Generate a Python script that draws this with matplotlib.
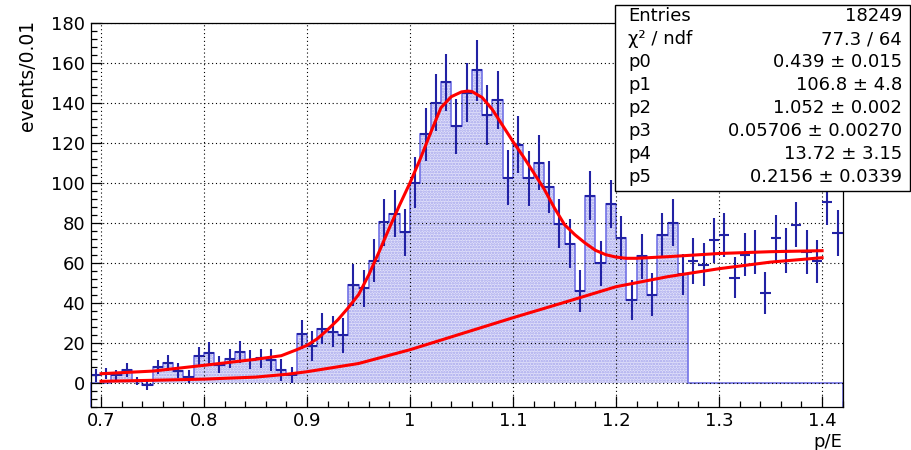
import numpy as np
import matplotlib
matplotlib.use('Agg')
import matplotlib.pyplot as plt
from matplotlib.patches import Rectangle
from matplotlib.ticker import MultipleLocator, FormatStrFormatter

plt.rcParams['font.family'] = ['DejaVu Sans']
plt.rcParams['hatch.linewidth'] = 1.2

# histogram: p/E, 0.01 wide bins from 0.69 to 1.42
bin_edges = np.linspace(0.69, 1.42, 74)
centers = 0.5 * (bin_edges[:-1] + bin_edges[1:])

counts = [3.7, 4.5, 4.0, 6.3, 1.0, -1.3, 8.0, 10.0, 6.0, 3.0,
          13.2, 15.0, 9.0, 12.0, 15.5, 11.5, 12.3, 11.2, 6.3, 4.0,
          24.2, 18.5, 27.0, 25.5, 23.7, 48.7, 47.2, 61.0, 80.2, 84.4,
          75.2, 100.0, 124.2, 140.0, 150.2, 128.1, 145.0, 156.2, 133.8, 141.2,
          102.5, 119.0, 102.2, 110.0, 97.9, 79.4, 69.5, 45.8, 93.5, 59.6,
          89.4, 72.3, 41.6, 63.2, 44.0, 73.7, 79.9, 54.1, 60.8, 59.0,
          71.2, 73.7, 52.5, 64.0, 65.3, 44.8, 72.3, 66.0, 79.0, 65.3,
          60.7, 90.3, 74.8]
errors = [3.1, 2.8, 2.5, 3.5, 1.9, 2.5, 3.6, 4.0, 3.8, 3.3,
          4.8, 5.4, 4.2, 4.7, 5.4, 4.8, 4.8, 5.5, 5.4, 4.0,
          7.3, 7.4, 7.8, 7.8, 8.7, 10.4, 9.3, 10.8, 11.8, 11.8,
          11.7, 12.6, 13.2, 14.4, 14.3, 13.9, 14.8, 15.2, 15.0, 14.6,
          13.8, 14.3, 13.8, 13.6, 12.9, 12.3, 12.1, 10.4, 12.1, 11.4,
          12.1, 11.1, 10.0, 11.3, 10.6, 11.3, 11.7, 10.2, 11.3, 10.8,
          11.3, 11.1, 10.1, 10.8, 10.8, 10.6, 11.4, 11.1, 11.2, 10.8,
          10.8, 11.7, 11.4]

# filled histogram only covers 0.71 - 1.27
hist_counts = np.where((centers > 0.71) & (centers < 1.27), counts, 0.0)

# fit curves (total and background)
fit_total_x = [0.70, 0.75, 0.80, 0.85, 0.875, 0.89, 0.90, 0.91, 0.92, 0.93,
               0.94, 0.95, 0.96, 0.97, 0.98, 0.99, 1.00, 1.01, 1.02, 1.03,
               1.04, 1.05, 1.056, 1.06, 1.07, 1.08, 1.09, 1.10, 1.11, 1.12,
               1.13, 1.14, 1.15, 1.16, 1.17, 1.18, 1.19, 1.20, 1.21, 1.22,
               1.25, 1.30, 1.35, 1.40]
fit_total_y = [4.5, 5.8, 8.7, 11.7, 13.5, 16.5, 18.7, 22.0, 26.5, 31.5,
               37.5, 44.0, 54.0, 65.5, 77.5, 89.0, 100.0, 112.0, 125.0, 137.5,
               143.0, 145.4, 145.8, 145.6, 142.6, 136.5, 128.5, 120.5, 113.0, 105.0,
               97.0, 87.5, 79.0, 74.0, 69.8, 66.2, 64.0, 62.8, 62.2, 62.2,
               63.0, 64.6, 65.5, 66.0]
fit_bkg_x = [0.70, 0.75, 0.80, 0.85, 0.88, 0.90, 0.95, 1.00, 1.05, 1.10,
             1.15, 1.20, 1.25, 1.30, 1.35, 1.40]
fit_bkg_y = [0.7, 1.2, 1.8, 2.8, 4.2, 5.5, 9.6, 16.5, 24.5, 32.5,
             40.2, 48.0, 53.0, 57.0, 60.3, 62.5]

# stats box
stat_labels = ['Entries', 'χ² / ndf', 'p0', 'p1', 'p2', 'p3', 'p4', 'p5']
stat_values = ['18249', '77.3 / 64', '0.439 ± 0.015', '106.8 ± 4.8',
               '1.052 ± 0.002', '0.05706 ± 0.00270',
               '13.72 ± 3.15', '0.2156 ± 0.0339']

fig = plt.figure(figsize=(9.11, 4.5), dpi=100)
ax = fig.add_axes([0.0996, 0.0962, 0.8254, 0.8534])

# dotted fill + outline, like ROOT's fill style
ax.stairs(hist_counts, bin_edges, fill=True, baseline=0, facecolor='#e2e2fa',
          edgecolor='#a4a4ec', hatch='......', lw=0, zorder=1)
ax.stairs(hist_counts, bin_edges, baseline=-12, color='#7272e6', lw=1.2, zorder=1.2,
          clip_on=False)

# data points with errors
ax.errorbar(centers, counts, yerr=errors, xerr=0.005, fmt='none',
            ecolor='#2222a4', elinewidth=1.5, capsize=0, zorder=2)

# fit functions
ax.plot(fit_total_x, fit_total_y, color='red', lw=2.2, zorder=3)
ax.plot(fit_bkg_x, fit_bkg_y, color='red', lw=2.2, zorder=3)

ax.set_xlim(0.69, 1.42)
ax.set_ylim(-12, 180)
ax.xaxis.set_major_locator(MultipleLocator(0.1))
ax.xaxis.set_minor_locator(MultipleLocator(0.02))
ax.xaxis.set_major_formatter(FormatStrFormatter('%g'))
ax.yaxis.set_major_locator(MultipleLocator(20))
ax.yaxis.set_minor_locator(MultipleLocator(4))
ax.tick_params(which='both', direction='in', top=False, right=False, labelsize=13)
ax.tick_params(which='major', length=8, width=0.9, pad=4)
ax.tick_params(which='minor', length=4.5, width=0.9)
ax.set_axisbelow('line')
ax.grid(True, which='major', color='black', linestyle=(0, (1, 2.5)), lw=0.8)
for s in ax.spines.values():
    s.set_linewidth(0.9)

fig.text(842 / 911, 1 - 447 / 450, 'p/E', ha='right', va='baseline', fontsize=13)
fig.text(27 / 911, 1 - 20 / 450, 'events/0.01', rotation=90, ha='center', va='top',
         fontsize=13.5)

# stats box on top of the frame
box = Rectangle((615 / 911, 1 - 191 / 450), 295 / 911, 186 / 450, transform=fig.transFigure,
                facecolor='white', edgecolor='black', lw=1.0, zorder=10)
fig.add_artist(box)
for i, (lab, val) in enumerate(zip(stat_labels, stat_values)):
    y = 1 - (16 + 23 * i) / 450
    fig.text(628 / 911, y, lab, ha='left', va='center', fontsize=13, zorder=11)
    fig.text(902 / 911, y, val, ha='right', va='center', fontsize=13, zorder=11)

fig.savefig('out.png', dpi=100)
